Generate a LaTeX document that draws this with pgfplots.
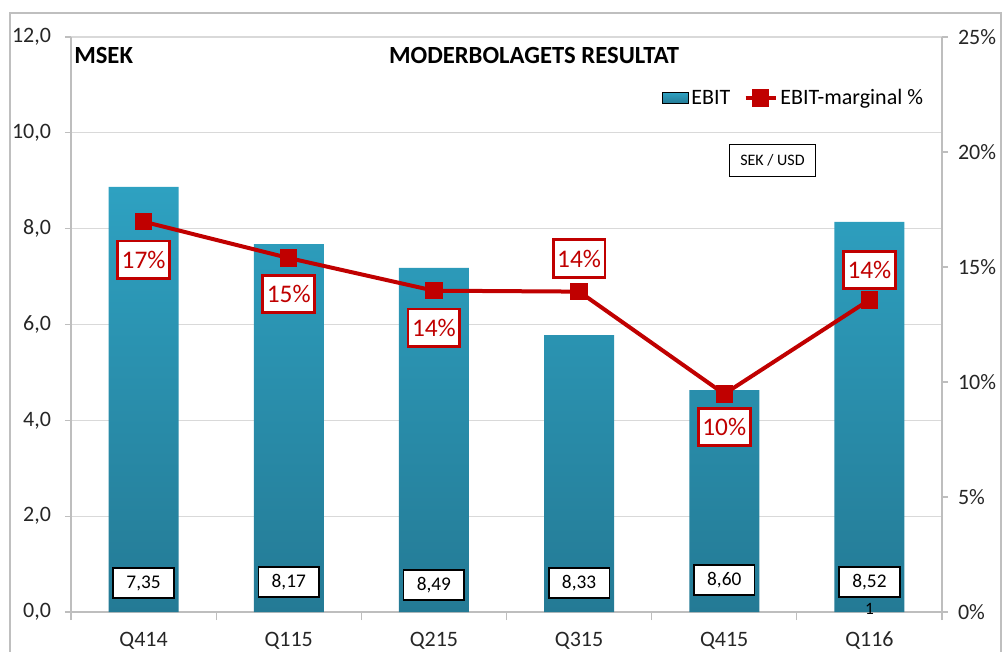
\documentclass[border=0pt]{standalone}
\usepackage{fontspec}
\setmainfont{Carlito}
\usepackage{pgfplots}
\usepackage{pgfplotstable}
\pgfplotsset{compat=1.18}

\definecolor{barTop}{RGB}{46,161,193}
\definecolor{barBot}{RGB}{36,122,149}
\definecolor{ebitred}{RGB}{192,0,0}
\definecolor{gridgray}{RGB}{217,217,217}
\definecolor{axgray}{RGB}{190,190,190}

\pgfplotstableread{
x ebit marg
0 8.87 16.97
1 7.68 15.39
2 7.18 13.97
3 5.78 13.93
4 4.63 9.48
5 8.14 13.57
}\datatable

\begin{document}
\begin{tikzpicture}
\useasboundingbox (0pt,0pt) rectangle (751.5pt,488.25pt);
\draw[color=black!25, line width=1pt] (7.5pt,-7.5pt) rectangle (750.75pt,478.5pt);

\begin{axis}[
  at={(53.25pt,29.25pt)}, anchor=south west,
  scale only axis, width=653.25pt, height=431.25pt,
  xmin=-0.5, xmax=5.5, ymin=0, ymax=12,
  clip=false,
  axis x line*=bottom, axis y line*=left,
  axis line style={axgray, line width=0.8pt},
  xtick={0,...,5}, xticklabels={Q414,Q115,Q215,Q315,Q415,Q116},
  minor xtick={-0.5,0.5,...,5.5},
  major x tick style={draw=none},
  minor x tick style={axgray, line width=0.8pt},
  minor tick length=6pt,
  ytick={0,2,...,12},
  major y tick style={axgray, line width=0.8pt},
  major tick length=4.5pt,
  tick align=outside,
  ymajorgrids, grid style={gridgray, line width=0.8pt},
  /pgf/number format/assume math mode=true,
  yticklabel style={/pgf/number format/fixed, /pgf/number format/fixed zerofill, /pgf/number format/precision=1, /pgf/number format/use comma, xshift=-7pt},
  ticklabel style={font=\fontsize{16.5}{18}\selectfont, text=black!85},
  xticklabel style={yshift=-7pt},
]
\addplot[ybar, bar width=52.5pt, bar shift=0pt, draw=none, top color=barTop, bottom color=barBot]
  table[x=x,y=ebit]{\datatable};

\tikzset{valbox/.style={draw=black, line width=1.3pt, fill=white, font=\fontsize{14.5}{16}\selectfont, minimum width=45.5pt, minimum height=23pt, inner sep=0pt}}
\node[valbox] at (axis cs:0,0.605) {7,35};
\node[valbox] at (axis cs:1,0.626) {8,17};
\node[valbox] at (axis cs:2,0.563) {8,49};
\node[valbox] at (axis cs:3,0.605) {8,33};
\node[valbox] at (axis cs:4,0.668) {8,60};
\node[valbox] at (axis cs:5,0.626) {8,52};
\node[font=\fontsize{13}{14}\selectfont, inner sep=0pt] at (axis cs:5,0.07) {1};
\node[draw=black, line width=0.8pt, fill=white, font=\fontsize{12}{14}\selectfont, minimum width=65pt, minimum height=24.5pt, inner sep=0pt] at (axis cs:4.332,9.42) {SEK / USD};
\end{axis}

\begin{axis}[
  at={(53.25pt,29.25pt)}, anchor=south west,
  scale only axis, width=653.25pt, height=431.25pt,
  xmin=-0.5, xmax=5.5, ymin=0, ymax=25,
  clip=false,
  axis y line*=right, axis x line=none,
  axis line style={axgray, line width=0.8pt},
  ytick={0,5,...,25},
  yticklabel={\pgfmathprintnumber{\tick}\%},
  major y tick style={axgray, line width=0.8pt},
  major tick length=4.5pt,
  tick align=outside,
  /pgf/number format/assume math mode=true,
  ticklabel style={font=\fontsize{16.5}{18}\selectfont, text=black!85},
  yticklabel style={xshift=4pt},
  legend style={at={(0.9816,0.894)}, anchor=east, draw=none, fill=none,
    font=\fontsize{16.5}{18}\selectfont, inner sep=0pt,
    /tikz/every even column/.append style={column sep=8pt}},
  legend columns=2,
  legend cell align=left,
]
\addlegendimage{legend image code/.code={\fill[top color=barTop,bottom color=barBot] (-1pt,-4.1pt) rectangle (18.5pt,4.1pt);}}
\addlegendentry{EBIT}
\addplot[ebitred, line width=3pt, mark=square*, mark size=5pt, mark options={solid},
  legend image code/.code={\draw[mark repeat=2,mark phase=2] plot coordinates {(0pt,0pt) (11.25pt,0pt) (22.5pt,0pt)};}]
  table[x=x,y=marg]{\datatable};
\addlegendentry{EBIT-marginal \%}

\tikzset{redbox/.style={draw=ebitred, line width=2.2pt, fill=white, text=ebitred, font=\fontsize{19}{21}\selectfont, inner xsep=3pt, inner ysep=0pt, minimum height=28pt}}
\node[redbox, yshift=-28.5pt] at (axis cs:0,16.97) {17\%};
\node[redbox, yshift=-27pt] at (axis cs:1,15.39) {15\%};
\node[redbox, yshift=-27.75pt] at (axis cs:2,13.97) {14\%};
\node[redbox, yshift=24.75pt] at (axis cs:3,13.93) {14\%};
\node[redbox, yshift=-24.75pt] at (axis cs:4,9.48) {10\%};
\node[redbox, yshift=22.5pt] at (axis cs:5,13.57) {14\%};
\end{axis}

\node[anchor=base west, inner sep=0pt, font=\bfseries\fontsize{18.5}{20}\selectfont] at (55.5pt,440.25pt) {MSEK};
\node[anchor=base, inner sep=0pt, font=\bfseries\fontsize{18.5}{20}\selectfont] at (400.5pt,440.25pt) {MODERBOLAGETS RESULTAT};
\end{tikzpicture}
\end{document}
